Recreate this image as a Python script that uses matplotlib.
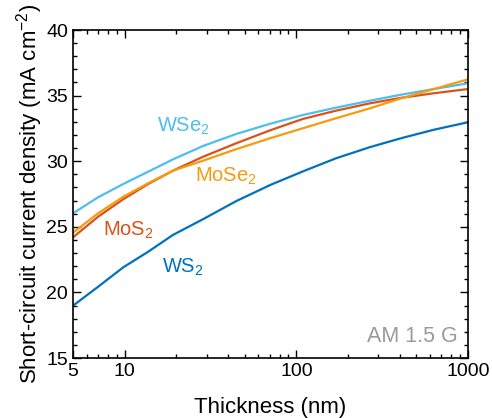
import matplotlib
matplotlib.use("Agg")
import matplotlib.pyplot as plt
from matplotlib.ticker import FixedLocator, NullFormatter, MultipleLocator

plt.rcParams['font.family'] = ['Liberation Sans', 'DejaVu Sans']
plt.rcParams['mathtext.fontset'] = 'custom'
plt.rcParams['mathtext.rm'] = 'Liberation Sans'
plt.rcParams['mathtext.it'] = 'Liberation Sans'

thickness = [5, 7, 9.8, 13.7, 19.1, 28.6, 44.5, 70.2, 109, 170, 268, 407, 633, 1000]
wse2 = [26.03, 27.25, 28.26, 29.20, 30.14, 31.16, 32.07, 32.85, 33.52, 34.08, 34.61, 35.07, 35.50, 35.94]
mos2 = [24.20, 25.77, 27.10, 28.26, 29.28, 30.34, 31.36, 32.35, 33.22, 33.85, 34.41, 34.83, 35.18, 35.50]
mose2 = [24.55, 26.03, 27.29, 28.32, 29.28, 30.04, 30.91, 31.75, 32.51, 33.27, 34.03, 34.79, 35.50, 36.24]
ws2 = [18.99, 20.43, 21.91, 23.10, 24.38, 25.58, 26.95, 28.18, 29.22, 30.22, 31.07, 31.75, 32.40, 32.97]

c_wse2 = '#4DBEEE'
c_mos2 = '#D95319'
c_mose2 = '#F79A0E'
c_ws2 = '#0072BD'

fig = plt.figure(figsize=(4.92, 4.18), dpi=100)
ax = fig.add_axes([0.1484, 0.1435, 0.8028, 0.7847])

ax.plot(thickness, wse2, color=c_wse2, lw=1.6)
ax.plot(thickness, mos2, color=c_mos2, lw=1.6)
ax.plot(thickness, mose2, color=c_mose2, lw=1.6)
ax.plot(thickness, ws2, color=c_ws2, lw=1.6)

ax.set_xscale('log')
ax.set_xlim(5, 1000)
ax.set_ylim(15, 40)
ax.xaxis.set_major_locator(FixedLocator([5, 10, 100, 1000]))
ax.set_xticklabels(['5', '10', '100', '1000'])
minors = [m * d for d in (1, 10, 100) for m in range(2, 10) if 5 < m * d < 1000 and m * d not in (10, 100)]
ax.xaxis.set_minor_locator(FixedLocator(minors))
ax.xaxis.set_minor_formatter(NullFormatter())
ax.yaxis.set_major_locator(MultipleLocator(5))
ax.yaxis.set_minor_locator(MultipleLocator(1))

ax.tick_params(which='both', direction='in', top=True, right=True, labelsize=14, width=1.0)
ax.tick_params(which='major', length=6)
ax.tick_params(which='minor', length=3)
for s in ax.spines.values():
    s.set_linewidth(1.2)

ax.set_xlabel('Thickness (nm)', fontsize=16, labelpad=12)
ax.set_ylabel('Short-circuit current density (mA cm$^{-2}$)', fontsize=16, labelpad=1)

lab_fs = 14.5
ax.text(15.4, 32.25, 'WSe$_2$', color=c_wse2, fontsize=lab_fs, ha='left', va='baseline')
ax.text(25.6, 28.44, 'MoSe$_2$', color=c_mose2, fontsize=lab_fs, ha='left', va='baseline')
ax.text(7.51, 24.30, 'MoS$_2$', color=c_mos2, fontsize=lab_fs, ha='left', va='baseline')
ax.text(16.4, 21.5, 'WS$_2$', color=c_ws2, fontsize=lab_fs, ha='left', va='baseline')
ax.text(0.975, 0.065, 'AM 1.5 G', color='#9A9A9A', fontsize=15.5, ha='right', va='center', transform=ax.transAxes)

fig.savefig('out.png', dpi=100)
